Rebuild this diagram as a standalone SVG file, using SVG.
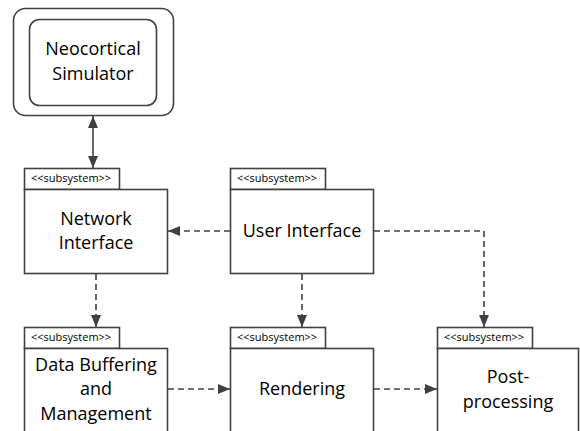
<svg xmlns="http://www.w3.org/2000/svg" width="580" height="431" viewBox="0 0 580 431">
  <style>
    .box { fill: #fff; stroke: #404040; stroke-width: 1.6; }
    .lbl { font-family: "Open Sans", "Liberation Sans", sans-serif; font-size: 18px; fill: #000; text-anchor: middle; }
    .st { font-family: "Open Sans", "Liberation Sans", sans-serif; font-size: 11px; fill: #000; }
    .dep { fill: none; stroke: #404040; stroke-width: 1.6; stroke-dasharray: 6 4; }
    .solid { fill: none; stroke: #404040; stroke-width: 1.6; }
  </style>
  <defs>
    <marker id="ah" viewBox="0 0 12 10" refX="12" refY="5" markerWidth="12" markerHeight="10" markerUnits="userSpaceOnUse" orient="auto-start-reverse">
      <path d="M0,0 L12,5 L0,10 z" fill="#404040"/>
    </marker>
  </defs>

  <rect width="580" height="431" fill="#fff"/>

  <!-- simulator node -->
  <g id="simulator">
    <rect class="box" x="13.5" y="8.5" width="160" height="107" rx="12"/>
    <rect class="box" x="29.5" y="19.5" width="127" height="86" rx="10"/>
    <text class="lbl" x="93" y="55">Neocortical</text>
    <text class="lbl" x="93" y="80">Simulator</text>
  </g>

  <g id="network-interface">
    <rect class="box" x="24.5" y="168.5" width="95" height="21"/>
    <text class="st" x="31" y="182">&lt;&lt;subsystem&gt;&gt;</text>
    <rect class="box" x="24.5" y="189.5" width="143" height="84"/>
    <text class="lbl" x="96" y="225">Network</text>
    <text class="lbl" x="96" y="249">Interface</text>
  </g>

  <g id="user-interface">
    <rect class="box" x="230.5" y="168.5" width="95" height="21"/>
    <text class="st" x="237" y="182">&lt;&lt;subsystem&gt;&gt;</text>
    <rect class="box" x="230.5" y="189.5" width="143" height="84"/>
    <text class="lbl" x="302" y="237">User Interface</text>
  </g>

  <g id="data-buffering">
    <rect class="box" x="24.5" y="327.5" width="95" height="21"/>
    <text class="st" x="31" y="341">&lt;&lt;subsystem&gt;&gt;</text>
    <rect class="box" x="24.5" y="348.5" width="143" height="90"/>
    <text class="lbl" x="96" y="371">Data Buffering</text>
    <text class="lbl" x="96" y="395">and</text>
    <text class="lbl" x="96" y="420">Management</text>
  </g>

  <g id="rendering">
    <rect class="box" x="230.5" y="327.5" width="95" height="21"/>
    <text class="st" x="237" y="341">&lt;&lt;subsystem&gt;&gt;</text>
    <rect class="box" x="230.5" y="348.5" width="143" height="90"/>
    <text class="lbl" x="302" y="395">Rendering</text>
  </g>

  <g id="post-processing">
    <rect class="box" x="437.5" y="327.5" width="95" height="21"/>
    <text class="st" x="444" y="341">&lt;&lt;subsystem&gt;&gt;</text>
    <rect class="box" x="437.5" y="348.5" width="141" height="90"/>
    <text class="lbl" x="508" y="383">Post-</text>
    <text class="lbl" x="508" y="408">processing</text>
  </g>

  <g id="connectors">
    <line class="solid" x1="93" y1="116" x2="93" y2="168" marker-start="url(#ah)" marker-end="url(#ah)"/>
    <line class="dep" x1="230" y1="231" x2="168" y2="231" marker-end="url(#ah)"/>
    <polyline class="dep" points="374,231 484,231 484,327" marker-end="url(#ah)"/>
    <line class="dep" x1="302" y1="274" x2="302" y2="327" marker-end="url(#ah)"/>
    <line class="dep" x1="96" y1="274" x2="96" y2="327" marker-end="url(#ah)"/>
    <line class="dep" x1="168" y1="389" x2="230" y2="389" marker-end="url(#ah)"/>
    <line class="dep" x1="374" y1="389" x2="437" y2="389" marker-end="url(#ah)"/>
  </g>
</svg>
